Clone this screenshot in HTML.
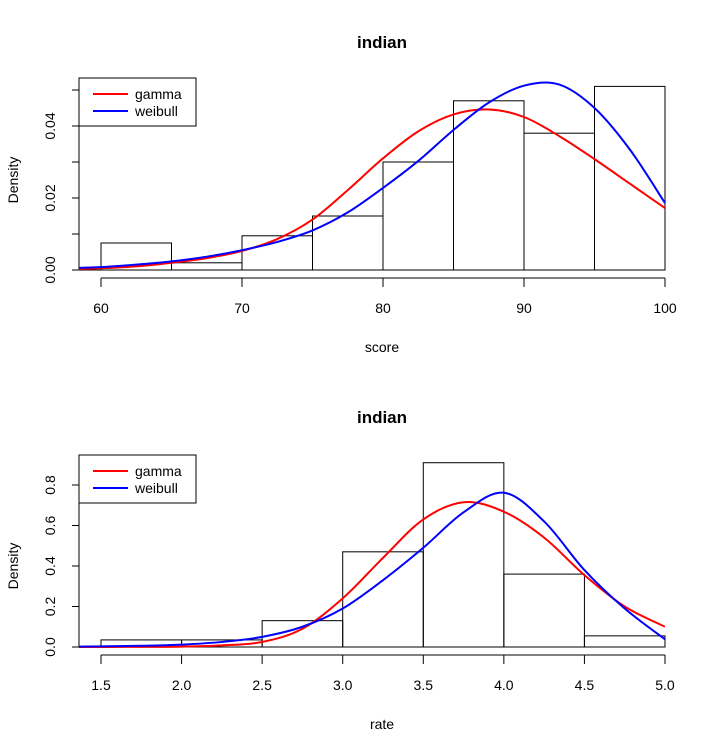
<!DOCTYPE html>
<html><head><meta charset="utf-8"><style>
body{margin:0;background:#fff}
svg{display:block;font-family:"Liberation Sans",Arial,sans-serif}
</style></head><body>
<svg id="c" width="728" height="753">
<defs>
<clipPath id="clipTop"><rect x="79" y="0" width="586" height="400"/></clipPath>
<clipPath id="clipBot"><rect x="79" y="380" width="586" height="373"/></clipPath>
</defs>
</svg>
<script>
// Top panel data
const topBins = [60,65,70,75,80,85,90,95,100];
const topDens = [0.0075,0.002,0.0095,0.015,0.030,0.047,0.038,0.051];
const topX = [57.5,60,62.5,65,67.5,70,72.5,75,77.5,80,82.5,85,87.5,90,92.5,95,97.5,100];
const topGamma = [0.0002,0.0005,0.001,0.002,0.0033,0.0053,0.0086,0.014,0.0222,0.031,0.0385,0.0432,0.0446,0.0425,0.0372,0.0308,0.024,0.0172];
const topWeib = [0.0005,0.0008,0.0015,0.0024,0.0037,0.0055,0.0078,0.011,0.016,0.0228,0.0303,0.0389,0.0465,0.0512,0.0515,0.045,0.0335,0.0186];
const topXTicks = [60,70,80,90,100];
const topYTicks = [0,0.01,0.02,0.03,0.04,0.05];
const topYLabels = ["0.00","","0.02","","0.04",""];
// Bottom panel data
const botBins = [1.5,2.0,2.5,3.0,3.5,4.0,4.5,5.0];
const botDens = [0.035,0.035,0.13,0.47,0.91,0.36,0.055];
const botX = [1.25,1.5,1.75,2.0,2.25,2.5,2.75,3.0,3.25,3.5,3.75,4.0,4.25,4.5,4.75,5.0];
const botGamma = [0,0,0.0005,0.002,0.008,0.025,0.09,0.24,0.44,0.63,0.715,0.668,0.54,0.355,0.20,0.10];
const botWeib = [0.001,0.003,0.006,0.012,0.025,0.05,0.10,0.19,0.33,0.49,0.665,0.762,0.62,0.38,0.19,0.038];
const botXTicks = [1.5,2.0,2.5,3.0,3.5,4.0,4.5,5.0];
const botXLabels = ["1.5","2.0","2.5","3.0","3.5","4.0","4.5","5.0"];
const botYTicks = [0,0.2,0.4,0.6,0.8];
const botYLabels = ["0.0","0.2","0.4","0.6","0.8"];

const svg=document.getElementById('c');
const NS='http://www.w3.org/2000/svg';
function mk(t,a,p){const e=document.createElementNS(NS,t);for(const k in a)e.setAttribute(k,a[k]);(p||svg).appendChild(e);return e;}
function smooth(pts){let d='M'+pts[0][0]+','+pts[0][1];for(let i=0;i<pts.length-1;i++){const p0=pts[i-1]||pts[i],p1=pts[i],p2=pts[i+1],p3=pts[i+2]||p2;d+=' C'+(p1[0]+(p2[0]-p0[0])/6)+','+(p1[1]+(p2[1]-p0[1])/6)+' '+(p2[0]-(p3[0]-p1[0])/6)+','+(p2[1]-(p3[1]-p1[1])/6)+' '+p2[0]+','+p2[1];}return d;}

function panel(o){
  const g=mk('g',{});
  
  
  const sx=v=>o.x0px+(v-o.x0)*o.xs, sy=v=>o.y0px-v*o.ys;
  const t=mk('text',{x:382,y:o.titleY,'text-anchor':'middle','font-size':17,'font-weight':'bold'},g);t.textContent='indian';
  
  for(let i=0;i<o.dens.length;i++){
    const r=mk('rect',{x:sx(o.bins[i]),y:sy(o.dens[i]),width:sx(o.bins[i+1])-sx(o.bins[i]),height:o.dens[i]*o.ys,fill:'none',stroke:'#000','stroke-width':1},g);
    
  }
  const bl=mk('line',{x1:79,x2:665,y1:o.y0px,y2:o.y0px,stroke:'#000'},g);
  
  const ax=mk('g',{},g);
  const xa=o.xt[0],xb=o.xt[o.xt.length-1],axY=o.y0px+8;
  mk('line',{x1:sx(xa),x2:sx(xb),y1:axY,y2:axY,stroke:'#000'},ax);
  o.xt.forEach((v,i)=>{mk('line',{x1:sx(v),x2:sx(v),y1:axY,y2:axY+9,stroke:'#000'},ax);
    const tx=mk('text',{x:sx(v),y:o.y0px+43,'text-anchor':'middle','font-size':14},ax);tx.textContent=o.xl[i];});
  const xt=mk('text',{x:382,y:o.y0px+82,'text-anchor':'middle','font-size':14},g);xt.textContent=o.xtitle;
  
  const ay=mk('g',{},g);
  mk('line',{x1:79,x2:79,y1:sy(o.yt[0]),y2:sy(o.yt[o.yt.length-1]),stroke:'#000'},ay);
  o.yt.forEach((v,i)=>{mk('line',{x1:72,x2:79,y1:sy(v),y2:sy(v),stroke:'#000'},ay);
    if(o.yl[i]){const tx=mk('text',{x:55,y:sy(v),'text-anchor':'middle','font-size':14,transform:`rotate(-90 55 ${sy(v)})`},ay);tx.textContent=o.yl[i];}});
  const cy=(o.y0px+sy(o.yt[o.yt.length-1]))/2;
  const yt=mk('text',{x:18,y:cy,'text-anchor':'middle','font-size':14,transform:`rotate(-90 18 ${cy})`},g);yt.textContent='Density';
  
  const cg=mk('g',{'clip-path':`url(#${o.clip})`},g);
  const c1=mk('path',{d:smooth(o.cx.map((v,i)=>[sx(v),sy(o.g[i])])),fill:'none',stroke:'#f00','stroke-width':2},cg);
  
  const c2=mk('path',{d:smooth(o.cx.map((v,i)=>[sx(v),sy(o.w[i])])),fill:'none',stroke:'#00f','stroke-width':2},cg);
  
  const lg=mk('g',{},g);
  mk('rect',{x:79,y:o.legY,width:117,height:48,fill:'#fff',stroke:'#000'},lg);
  [['gamma','#f00'],['weibull','#00f']].forEach((e,i)=>{
    const eg=mk('g',{},lg);
    const y=o.legY+16+i*17;
    mk('line',{x1:93,x2:128,y1:y,y2:y,stroke:e[1],'stroke-width':2},eg);
    const tx=mk('text',{x:135,y:y+5,'font-size':14},eg);tx.textContent=e[0];});
}
panel({name:'score-panel',clip:'clipTop',x0:60,x0px:101,xs:14.1,y0px:270,ys:3600,titleY:48,legY:78,
  bins:topBins,dens:topDens,cx:topX,g:topGamma,w:topWeib,xt:topXTicks,xl:topXTicks.map(String),yt:topYTicks,yl:topYLabels,xtitle:'score'});
panel({name:'rate-panel',clip:'clipBot',x0:1.5,x0px:101,xs:161.14,y0px:647,ys:202.5,titleY:423,legY:455,
  bins:botBins,dens:botDens,cx:botX,g:botGamma,w:botWeib,xt:botXTicks,xl:botXLabels,yt:botYTicks,yl:botYLabels,xtitle:'rate'});
</script>
</body></html>
